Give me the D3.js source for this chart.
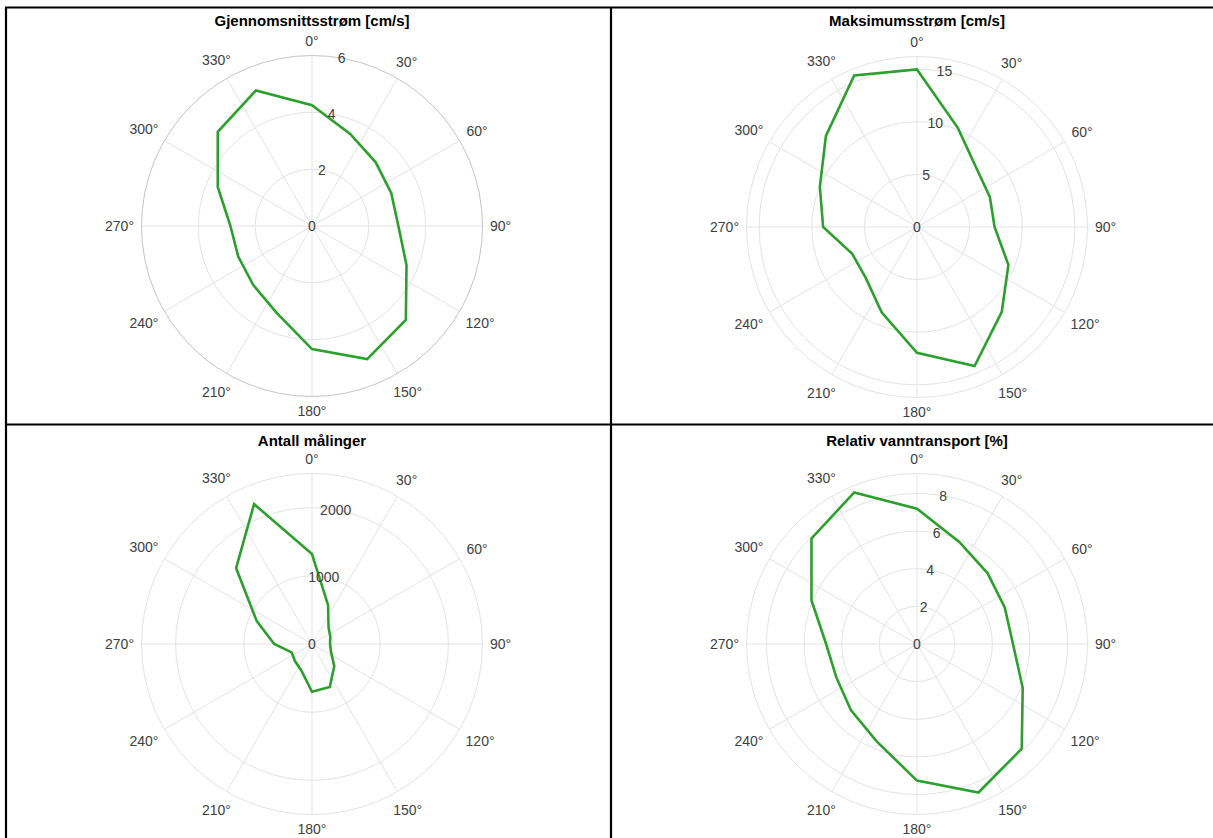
<!DOCTYPE html>
<html>
<head>
<meta charset="utf-8">
<script src="https://cdn.jsdelivr.net/npm/d3@7"></script>
<style>
  html, body { margin: 0; padding: 0; background: #fff; }
  svg { display: block; font-family: "Liberation Sans", Arial, Helvetica, sans-serif; }
</style>
</head>
<body>
<svg id="chart" width="1213" height="838"></svg>
<script>
// Direction bins (degrees, clockwise from north)
const directions = [0, 22.5, 45, 67.5, 90, 112.5, 135, 157.5, 180, 202.5, 225, 247.5, 270, 292.5, 315, 337.5];

// Mean current speed per direction [cm/s]
const meanSpeed = [4.25, 3.51, 3.17, 3.02, 3.04, 3.60, 4.67, 5.07, 4.33, 3.29, 2.93, 2.81, 2.87, 3.59, 4.69, 5.16];

// Maximum current speed per direction [cm/s]
const maxSpeed = [14.97, 10.17, 7.96, 7.49, 7.37, 9.40, 11.39, 14.30, 11.96, 8.78, 6.87, 6.66, 8.92, 9.99, 12.24, 15.59];

// Number of measurements per direction
const counts = [1319, 616, 343, 290, 265, 301, 461, 682, 701, 415, 354, 323, 554, 877, 1574, 2220];

// Relative water transport per direction [%]
const transport = [7.19, 5.87, 5.31, 5.05, 5.10, 6.08, 7.87, 8.54, 7.26, 5.60, 4.97, 4.64, 4.83, 6.07, 7.93, 8.72];

// Panel titles
const titles = ["Gjennomsnittsstrøm [cm/s]", "Maksimumsstrøm [cm/s]", "Antall målinger", "Relativ vanntransport [%]"];

// Radial tick values and outer radial limits for each panel
const radialTicks = [[0, 2, 4, 6], [0, 5, 10, 15], [0, 1000, 2000], [0, 2, 4, 6, 8]];
const radialMax = [6, 16.2, 2500, 9.06];

// Angular tick labels
const angleTicks = [0, 30, 60, 90, 120, 150, 180, 210, 240, 270, 300, 330];

const seriesList = [meanSpeed, maxSpeed, counts, transport];

const svg = d3.select("#chart");
const W = 1213, H = 838;

// Cell grid (two by two)
const x0 = 6, xMid = 611, y0 = 7.5, yMid = 424.5;
const cells = [
  { cx: 312, cy: 226, ty: 25.7 },
  { cx: 917, cy: 227, ty: 25.7 },
  { cx: 312, cy: 644, ty: 446 },
  { cx: 917, cy: 644, ty: 446 }
];
const R = 170.5;
const green = "#2ca02c";
const fs = 14;
const toRad = d => d * Math.PI / 180;

cells.forEach((cell, i) => {
  const g = svg.append("g").attr("transform", `translate(${cell.cx},${cell.cy})`);
  const r = d3.scaleLinear().domain([0, radialMax[i]]).range([0, R]);

  // Concentric rings
  const ringVals = radialTicks[i].filter(v => v > 0 && v < radialMax[i] - 1e-9);
  g.selectAll("circle.ring").data(ringVals).join("circle")
    .attr("class", "ring")
    .attr("r", d => r(d))
    .attr("fill", "none")
    .attr("stroke", "#e3e3e3")
    .attr("stroke-width", 1);

  // Outer boundary
  g.append("circle")
    .attr("r", R)
    .attr("fill", "none")
    .attr("stroke", i === 0 ? "#c4c4c4" : "#e3e3e3")
    .attr("stroke-width", 1);

  // Spokes every 30 degrees
  g.selectAll("line.spoke").data(angleTicks).join("line")
    .attr("class", "spoke")
    .attr("x1", 0).attr("y1", 0)
    .attr("x2", d => R * Math.sin(toRad(d)))
    .attr("y2", d => -R * Math.cos(toRad(d)))
    .attr("stroke", "#e3e3e3")
    .attr("stroke-width", 1);

  // Data polygon
  const line = d3.lineRadial()
    .angle((d, k) => toRad(directions[k]))
    .radius(d => r(d))
    .curve(d3.curveLinearClosed);
  g.append("path")
    .datum(seriesList[i])
    .attr("d", line)
    .attr("fill", "none")
    .attr("stroke", green)
    .attr("stroke-width", 2.6)
    .attr("stroke-linejoin", "miter");

  // Angular labels: the label box sits just outside the outer circle
  const D = 178, halfH = 7;
  g.selectAll("text.ang").data(angleTicks).join("text")
    .attr("class", "ang")
    .attr("text-anchor", "middle")
    .attr("dy", "0.35em")
    .attr("font-size", fs)
    .attr("fill", "#404040")
    .text(d => d + "°")
    .each(function (d) {
      const w = this.getComputedTextLength();
      const s = Math.sin(toRad(d)), c = Math.cos(toRad(d));
      const dist = D + Math.abs(s) * w / 2 + Math.abs(c) * halfH;
      d3.select(this).attr("x", s * dist).attr("y", -c * dist);
    });

  // Radial tick labels along the 10 degree direction
  const la = toRad(10);
  g.selectAll("text.rad").data(radialTicks[i]).join("text")
    .attr("class", "rad")
    .attr("x", d => r(d) * Math.sin(la))
    .attr("y", d => -r(d) * Math.cos(la))
    .attr("dy", "0.35em")
    .attr("text-anchor", "middle")
    .attr("font-size", fs)
    .attr("fill", "#404040")
    .text(d => d);

  // Title
  svg.append("text")
    .attr("x", cell.cx)
    .attr("y", cell.ty)
    .attr("text-anchor", "middle")
    .attr("font-size", 15)
    .attr("font-weight", "bold")
    .attr("fill", "#000")
    .text(titles[i]);
});

// Table frame lines
const frame = svg.append("g").attr("stroke", "#000").attr("stroke-width", 2.2);
frame.append("line").attr("x1", x0 - 1).attr("y1", y0).attr("x2", W).attr("y2", y0);
frame.append("line").attr("x1", x0 - 1).attr("y1", yMid).attr("x2", W).attr("y2", yMid);
frame.append("line").attr("x1", x0).attr("y1", y0).attr("x2", x0).attr("y2", H);
frame.append("line").attr("x1", xMid).attr("y1", y0).attr("x2", xMid).attr("y2", H);
</script>
</body>
</html>
